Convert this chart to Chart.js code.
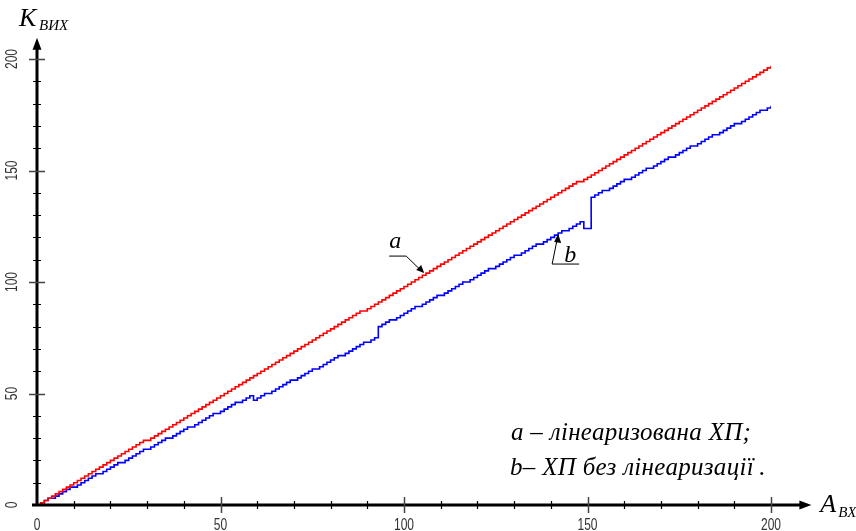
<!DOCTYPE html>
<html lang="uk">
<head>
    <meta charset="UTF-8">
    <title>Характеристика перетворення</title>
    <style>
        body {
            margin: 0;
            padding: 0;
            background-color: #fff;
        }

        .chart-box {
            position: relative;
            width: 856px;
            height: 531px;
        }
    </style>
</head>
<body>
    <div class="chart-box">
        <canvas id="hpChart"></canvas>
    </div>

    <script src="https://cdn.jsdelivr.net/npm/chart.js"></script>
    <script>
        // Input values A_BX
        const inputA = [
            0, 1, 2, 3, 4, 5, 6, 7, 8, 9, 10, 11, 12, 13, 14, 15, 16, 17, 18, 19,
            20, 21, 22, 23, 24, 25, 26, 27, 28, 29, 30, 31, 32, 33, 34, 35, 36, 37, 38, 39,
            40, 41, 42, 43, 44, 45, 46, 47, 48, 49, 50, 51, 52, 53, 54, 55, 56, 57, 58, 59,
            60, 61, 62, 63, 64, 65, 66, 67, 68, 69, 70, 71, 72, 73, 74, 75, 76, 77, 78, 79,
            80, 81, 82, 83, 84, 85, 86, 87, 88, 89, 90, 91, 92, 93, 94, 95, 96, 97, 98, 99,
            100, 101, 102, 103, 104, 105, 106, 107, 108, 109, 110, 111, 112, 113, 114, 115, 116, 117, 118, 119,
            120, 121, 122, 123, 124, 125, 126, 127, 128, 129, 130, 131, 132, 133, 134, 135, 136, 137, 138, 139,
            140, 141, 142, 143, 144, 145, 146, 147, 148, 149, 150, 151, 152, 153, 154, 155, 156, 157, 158, 159,
            160, 161, 162, 163, 164, 165, 166, 167, 168, 169, 170, 171, 172, 173, 174, 175, 176, 177, 178, 179,
            180, 181, 182, 183, 184, 185, 186, 187, 188, 189, 190, 191, 192, 193, 194, 195, 196, 197, 198, 199,
            200
        ];

        // a - linearised characteristic (red)
        const outLinear = [
            0, 1, 2, 3, 4, 5, 6, 7, 8, 9, 10, 11, 12, 13, 14, 15, 16, 17, 18, 19,
            20, 21, 22, 23, 24, 25, 26, 27, 28, 29, 29, 30, 31, 32, 33, 34, 35, 36, 37, 38,
            39, 40, 41, 42, 43, 44, 45, 46, 47, 48, 49, 50, 51, 52, 53, 54, 55, 56, 57, 58,
            59, 60, 61, 62, 63, 64, 65, 66, 67, 68, 69, 70, 71, 72, 73, 74, 75, 76, 77, 78,
            79, 80, 81, 82, 83, 84, 85, 86, 87, 87, 88, 89, 90, 91, 92, 93, 94, 95, 96, 97,
            98, 99, 100, 101, 102, 103, 104, 105, 106, 107, 108, 109, 110, 111, 112, 113, 114, 115, 116, 117,
            118, 119, 120, 121, 122, 123, 124, 125, 126, 127, 128, 129, 130, 131, 132, 133, 134, 135, 136, 137,
            138, 139, 140, 141, 142, 143, 144, 145, 145, 146, 147, 148, 149, 150, 151, 152, 153, 154, 155, 156,
            157, 158, 159, 160, 161, 162, 163, 164, 165, 166, 167, 168, 169, 170, 171, 172, 173, 174, 175, 176,
            177, 178, 179, 180, 181, 182, 183, 184, 185, 186, 187, 188, 189, 190, 191, 192, 193, 194, 195, 196,
            197
        ];

        // b - characteristic without linearisation (blue)
        const outRaw = [
            0, 1, 2, 3, 3, 4, 5, 6, 7, 8, 8, 9, 10, 11, 12, 13, 14, 14, 15, 16,
            17, 18, 19, 19, 20, 21, 22, 23, 24, 25, 25, 26, 27, 28, 29, 30, 30, 31, 32, 33,
            34, 35, 35, 36, 37, 38, 39, 40, 41, 41, 42, 43, 44, 45, 46, 46, 47, 48, 49, 47,
            48, 49, 50, 50, 51, 52, 53, 54, 55, 56, 56, 57, 58, 59, 60, 61, 61, 62, 63, 64,
            65, 66, 67, 67, 68, 69, 70, 71, 72, 73, 73, 74, 75, 80, 81, 82, 83, 83, 84, 85,
            86, 87, 88, 89, 89, 90, 91, 92, 93, 94, 94, 95, 96, 97, 98, 99, 100, 100, 101, 102,
            103, 104, 105, 106, 106, 107, 108, 109, 110, 111, 112, 112, 113, 114, 115, 116, 117, 117, 118, 119,
            120, 121, 122, 123, 123, 124, 125, 126, 127, 124, 124, 138, 139, 140, 141, 141, 142, 143, 144, 145,
            146, 146, 147, 148, 149, 150, 151, 151, 152, 153, 154, 155, 156, 156, 157, 158, 159, 160, 161, 161,
            162, 163, 164, 165, 166, 166, 167, 168, 169, 170, 171, 171, 172, 173, 174, 175, 176, 177, 177, 178,
            179
        ];

        const tickLabels = [0, 50, 100, 150, 200];
        const minorStep = 10;

        const toPoints = (xs, ys) => xs.map((v, i) => ({ x: v, y: ys[i] }));

        const tickFont = "16px 'Liberation Sans', Arial, sans-serif";
        const serifItalic = (size) => `italic ${size}px 'Liberation Serif', 'DejaVu Serif', serif`;

        // narrow-looking tick text: squeeze a normal sans horizontally
        function narrowText(ctx, text, cx, cy, angle) {
            ctx.save();
            ctx.translate(cx, cy);
            ctx.rotate(angle);
            ctx.scale(0.75, 1);
            ctx.fillText(text, 0, 0);
            ctx.restore();
        }

        // axes with arrows, ticks crossing the axis, labels and notes
        const axesPlugin = {
            id: 'axesPlugin',
            afterDatasetsDraw(chart) {
                const { ctx, scales: { x, y } } = chart;
                const ox = x.getPixelForValue(0);
                const oy = y.getPixelForValue(0);
                const xEnd = x.getPixelForValue(211);
                const yEnd = y.getPixelForValue(209.5);

                ctx.save();
                ctx.strokeStyle = '#000';
                ctx.fillStyle = '#000';

                // axis lines
                ctx.lineWidth = 3;
                ctx.beginPath();
                ctx.moveTo(ox - 5, oy);
                ctx.lineTo(xEnd - 8, oy);
                ctx.moveTo(ox, oy + 1);
                ctx.lineTo(ox, yEnd + 8);
                ctx.stroke();

                // arrow heads
                ctx.beginPath();
                ctx.moveTo(xEnd, oy);
                ctx.lineTo(xEnd - 12, oy - 4.5);
                ctx.lineTo(xEnd - 12, oy + 4.5);
                ctx.closePath();
                ctx.fill();
                ctx.beginPath();
                ctx.moveTo(ox, yEnd);
                ctx.lineTo(ox - 4.5, yEnd + 12);
                ctx.lineTo(ox + 4.5, yEnd + 12);
                ctx.closePath();
                ctx.fill();

                // ticks
                for (let v = minorStep; v <= 200; v += minorStep) {
                    const major = v % 50 === 0;
                    const half = major ? 8 : 4;
                    ctx.lineWidth = major ? 1.5 : 1.2;
                    ctx.strokeStyle = major ? '#444' : '#000';
                    const px = Math.round(x.getPixelForValue(v)) + 0.5;
                    const py = Math.round(y.getPixelForValue(v)) + 0.5;
                    ctx.beginPath();
                    ctx.moveTo(px, oy - half);
                    ctx.lineTo(px, oy + half);
                    ctx.moveTo(ox - half, py);
                    ctx.lineTo(ox + half, py);
                    ctx.stroke();
                }

                // tick labels
                ctx.fillStyle = '#333';
                ctx.font = tickFont;
                ctx.textAlign = 'center';
                ctx.textBaseline = 'middle';
                tickLabels.forEach(v => {
                    narrowText(ctx, String(v), x.getPixelForValue(v), oy + 21, 0);
                    narrowText(ctx, String(v), ox - 24, y.getPixelForValue(v), -Math.PI / 2);
                });

                // axis titles
                ctx.fillStyle = '#000';
                ctx.textAlign = 'left';
                ctx.textBaseline = 'alphabetic';
                ctx.font = serifItalic(26);
                ctx.fillText('K', ox - 18, 26);
                ctx.fillText('A', xEnd + 9, oy + 7);
                ctx.font = serifItalic(15);
                ctx.fillText('ВИХ', ox + 2, 30);
                ctx.fillText('ВХ', xEnd + 27, oy + 12);

                // pointer a
                ctx.strokeStyle = '#000';
                ctx.lineWidth = 1;
                const aTipX = x.getPixelForValue(105.5);
                const aTipY = y.getPixelForValue(104);
                ctx.beginPath();
                ctx.moveTo(aTipX - 35, aTipY - 17);
                ctx.lineTo(aTipX - 18, aTipY - 17);
                ctx.lineTo(aTipX - 2, aTipY - 1.5);
                ctx.stroke();
                ctx.beginPath();
                ctx.moveTo(aTipX, aTipY);
                ctx.lineTo(aTipX - 8, aTipY - 3);
                ctx.lineTo(aTipX - 3, aTipY - 8);
                ctx.closePath();
                ctx.fill();
                ctx.font = serifItalic(24);
                ctx.fillText('a', aTipX - 35, aTipY - 25);

                // pointer b
                const bTipX = x.getPixelForValue(142);
                const bTipY = y.getPixelForValue(121.5);
                ctx.beginPath();
                ctx.moveTo(bTipX - 0.5, bTipY + 3);
                ctx.lineTo(bTipX - 6, bTipY + 30);
                ctx.lineTo(bTipX + 21, bTipY + 30);
                ctx.stroke();
                ctx.beginPath();
                ctx.moveTo(bTipX, bTipY);
                ctx.lineTo(bTipX + 3, bTipY + 9);
                ctx.lineTo(bTipX - 4, bTipY + 8);
                ctx.closePath();
                ctx.fill();
                ctx.fillText('b', bTipX + 6, bTipY + 28);

                // notes
                ctx.font = serifItalic(25);
                ctx.letterSpacing = '0.3px';
                ctx.fillText('a – лінеаризована ХП;', 511, 440);
                ctx.fillText('b– ХП без лінеаризації\u2009.', 510, 475);

                ctx.restore();
            }
        };

        const ctx = document.getElementById('hpChart').getContext('2d');
        const hpChart = new Chart(ctx, {
            type: 'line',
            data: {
                datasets: [{
                    label: 'a',
                    data: toPoints(inputA, outLinear),
                    borderColor: '#ff0000',
                    borderWidth: 1.6,
                    stepped: true,
                    pointRadius: 0,
                    fill: false
                }, {
                    label: 'b',
                    data: toPoints(inputA, outRaw),
                    borderColor: '#0000ff',
                    borderWidth: 1.6,
                    stepped: true,
                    pointRadius: 0,
                    fill: false
                }]
            },
            options: {
                responsive: true,
                maintainAspectRatio: false,
                animation: false,
                events: [],
                layout: {
                    padding: { left: 37, right: 85, top: 59, bottom: 26 }
                },
                plugins: {
                    legend: { display: false },
                    tooltip: { enabled: false }
                },
                scales: {
                    x: { type: 'linear', min: 0, max: 200, display: false },
                    y: { type: 'linear', min: 0, max: 200, display: false }
                }
            },
            plugins: [axesPlugin]
        });
    </script>
</body>
</html>
